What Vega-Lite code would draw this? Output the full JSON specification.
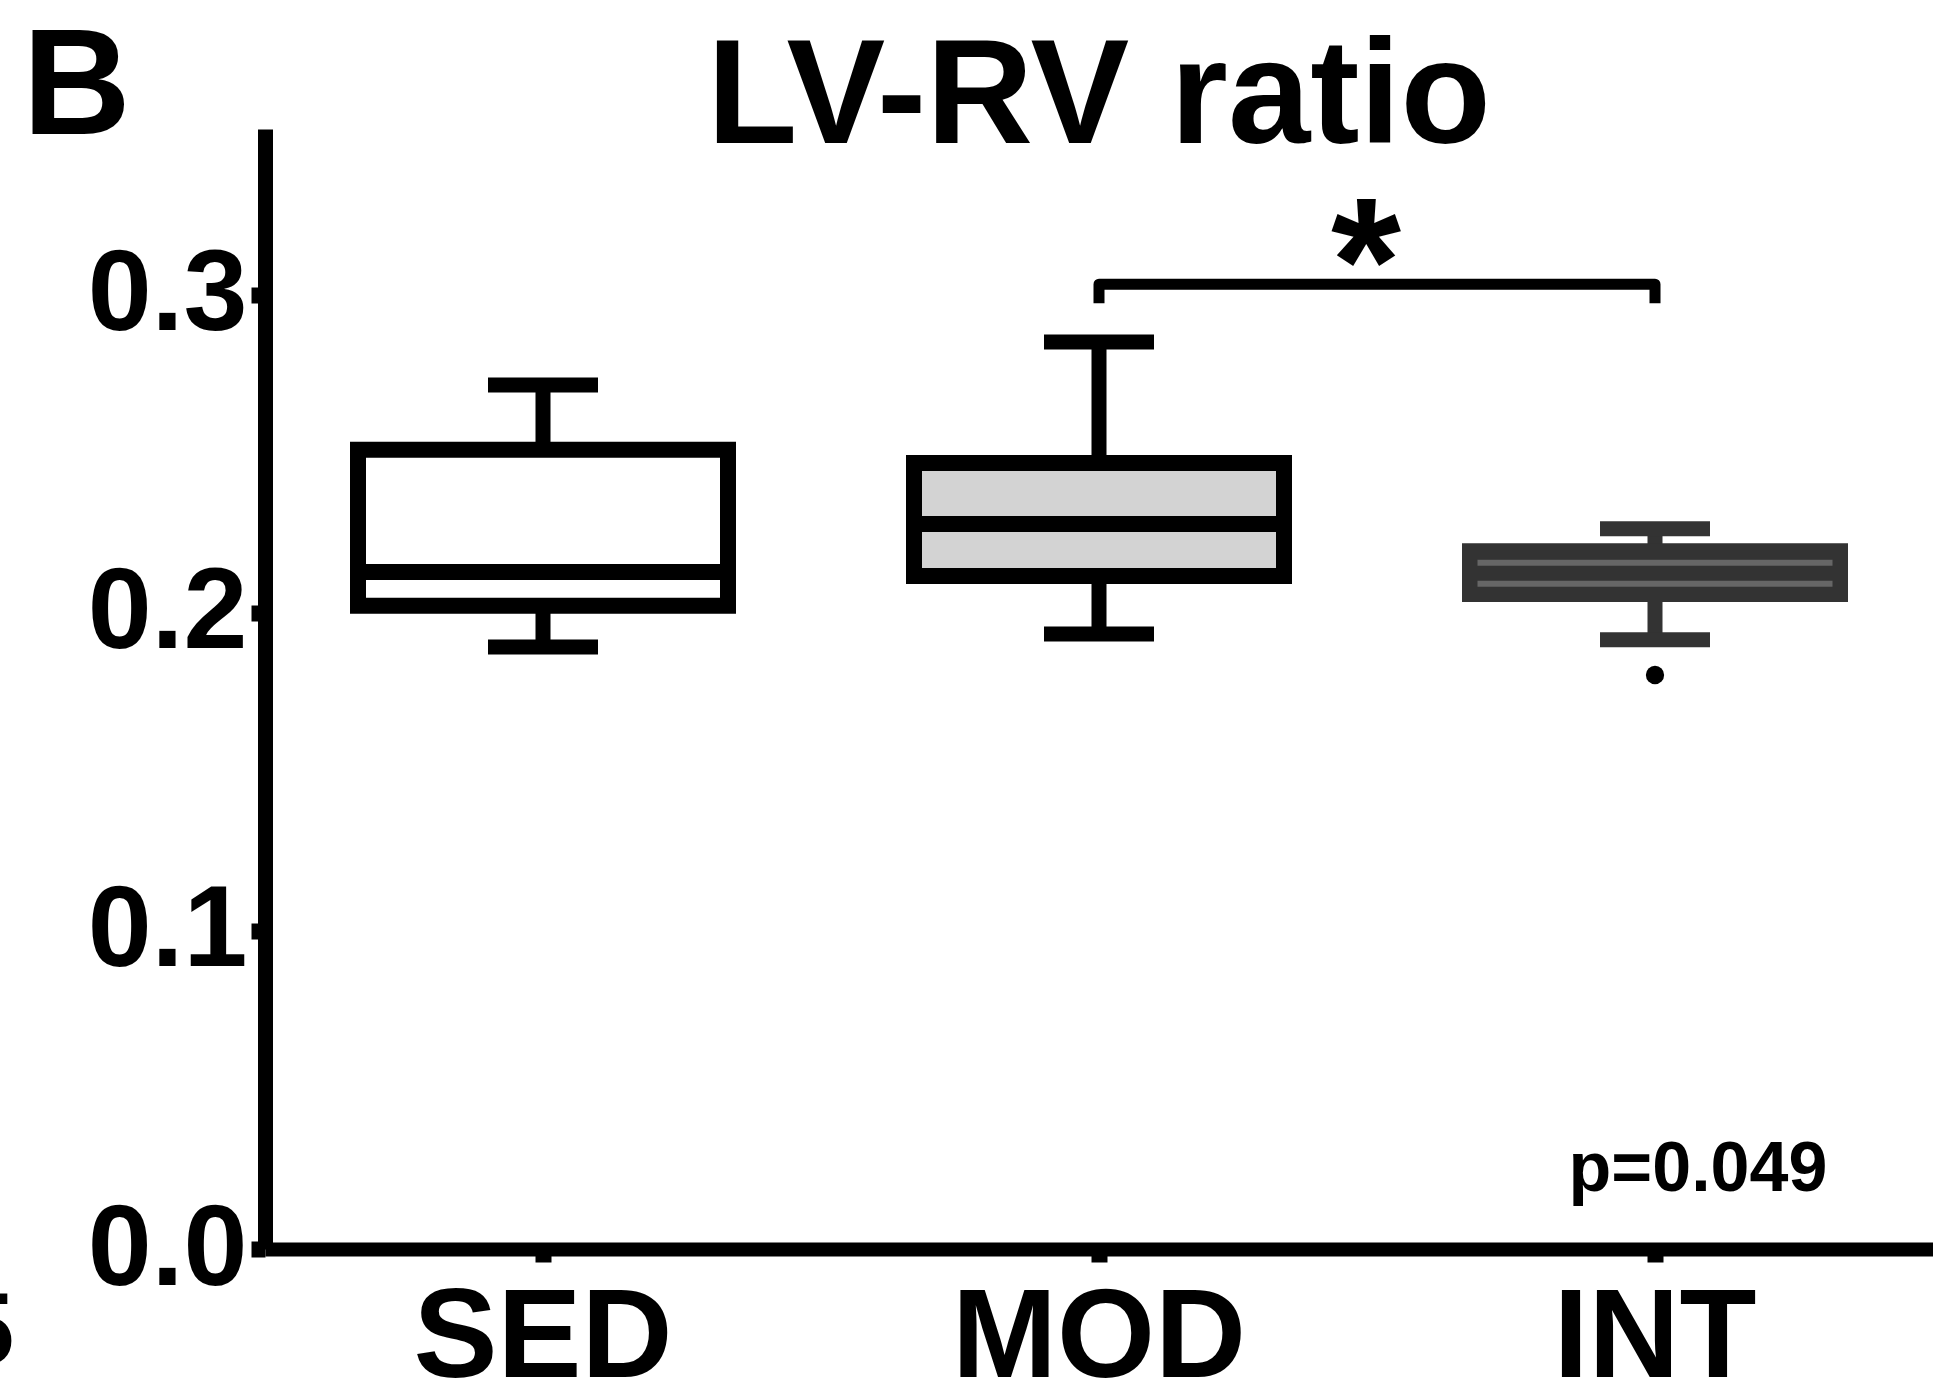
{
  "$schema": "https://vega.github.io/schema/vega-lite/v6.json",
  "autosize": "none",
  "width": 1668,
  "height": 1120,
  "padding": {"left": 265, "top": 129, "right": 0, "bottom": 132},
  "background": "white",
  "title": {"text": "LV-RV ratio", "anchor": "middle", "offset": -161, "fontSize": 148, "font": "Liberation Sans", "fontWeight": "bold", "color": "black"},
  "datasets": {
    "boxes": [
      {"group": "SED", "lower": 0.1893, "q1": 0.2023, "q3": 0.2513, "upper": 0.2717},
      {"group": "MOD", "lower": 0.1934, "q1": 0.2116, "q3": 0.2472, "upper": 0.2852},
      {"group": "INT", "lower": 0.1916, "q1": 0.2060, "q3": 0.2194, "upper": 0.2265}
    ],
    "medians": [
      {"group": "SED", "value": 0.2129},
      {"group": "MOD", "value": 0.2280}
    ],
    "intlines": [
      {"group": "INT", "value": 0.2158},
      {"group": "INT", "value": 0.2092}
    ],
    "outliers": [
      {"group": "INT", "value": 0.1805}
    ],
    "bracket": [
      {"group": "MOD", "value": 0.2974, "order": 1},
      {"group": "MOD", "value": 0.3034, "order": 2},
      {"group": "INT", "value": 0.3034, "order": 3},
      {"group": "INT", "value": 0.2974, "order": 4}
    ],
    "star": [
      {"group": "MOD", "value": 0.2913, "label": "*"}
    ],
    "pval": [
      {"group": "INT", "value": 0.0183, "label": "p=0.049"}
    ]
  },
  "encoding": {
    "x": {
      "field": "group", "type": "nominal",
      "scale": {"type": "band", "domain": ["SED", "MOD", "INT"], "paddingInner": 0, "paddingOuter": 0},
      "axis": {
        "title": "5", "titleX": -308, "titleY": 114, "titleAlign": "left", "titleBaseline": "alphabetic",
        "titleFontSize": 102, "titleFontWeight": "bold", "titleFont": "Liberation Sans", "titleColor": "black",
        "labelAngle": 0, "labelFontSize": 126, "labelFont": "Liberation Sans", "labelFontWeight": "bold", "labelColor": "black",
        "labelBaseline": "alphabetic", "labelPadding": 114, "labelLimit": 0,
        "domainColor": "black", "domainWidth": 14, "tickColor": "black", "tickWidth": 16, "tickSize": 13,
        "grid": false
      }
    }
  },
  "layer": [
    {
      "data": {"name": "boxes"},
      "mark": {"type": "rule", "strokeWidth": 15},
      "encoding": {
        "y": {
          "field": "lower", "type": "quantitative",
          "scale": {"domain": [0, 0.3522], "nice": false, "zero": false},
          "axis": {
            "values": [0, 0.1, 0.2, 0.3], "format": ".1f",
            "title": "B", "titleAngle": 0, "titleX": -243, "titleY": 4, "titleAlign": "left", "titleBaseline": "alphabetic",
            "titleFontSize": 150, "titleFontWeight": "bold", "titleFont": "Liberation Sans", "titleColor": "black",
            "labelFontSize": 115, "labelFont": "Liberation Sans", "labelFontWeight": "bold", "labelColor": "black", "labelPadding": 4, "labelLimit": 0,
            "domainColor": "black", "domainWidth": 15, "tickColor": "black", "tickWidth": 16, "tickSize": 14, "grid": false
          }
        },
        "y2": {"field": "upper"},
        "color": {"field": "group", "type": "nominal", "scale": {"domain": ["SED", "MOD", "INT"], "range": ["#000000", "#000000", "#333333"]}, "legend": null}
      }
    },
    {
      "data": {"name": "boxes"},
      "mark": {"type": "tick", "size": 110, "thickness": 15, "opacity": 1},
      "encoding": {
        "y": {"field": "lower", "type": "quantitative"},
        "color": {"field": "group", "type": "nominal", "legend": null}
      }
    },
    {
      "data": {"name": "boxes"},
      "mark": {"type": "tick", "size": 110, "thickness": 15, "opacity": 1},
      "encoding": {
        "y": {"field": "upper", "type": "quantitative"},
        "color": {"field": "group", "type": "nominal", "legend": null}
      }
    },
    {
      "data": {"name": "boxes"},
      "mark": {"type": "bar", "size": 370, "strokeWidth": 16, "opacity": 1},
      "encoding": {
        "y": {"field": "q1", "type": "quantitative"},
        "y2": {"field": "q3"},
        "fill": {"field": "group", "type": "nominal", "scale": {"domain": ["SED", "MOD", "INT"], "range": ["#ffffff", "#d3d3d3", "#333333"]}, "legend": null},
        "stroke": {"field": "group", "type": "nominal", "scale": {"domain": ["SED", "MOD", "INT"], "range": ["#000000", "#000000", "#333333"]}, "legend": null}
      }
    },
    {
      "data": {"name": "medians"},
      "mark": {"type": "tick", "size": 386, "thickness": 16, "color": "#000000", "opacity": 1},
      "encoding": {
        "y": {"field": "value", "type": "quantitative"}
      }
    },
    {
      "data": {"name": "intlines"},
      "mark": {"type": "tick", "size": 355, "thickness": 6, "color": "#666666", "opacity": 1},
      "encoding": {
        "y": {"field": "value", "type": "quantitative"}
      }
    },
    {
      "data": {"name": "outliers"},
      "mark": {"type": "point", "filled": true, "size": 335, "color": "#000000", "opacity": 1},
      "encoding": {
        "y": {"field": "value", "type": "quantitative"}
      }
    },
    {
      "data": {"name": "bracket"},
      "mark": {"type": "line", "strokeWidth": 11, "color": "#000000", "strokeJoin": "round"},
      "encoding": {
        "y": {"field": "value", "type": "quantitative"},
        "order": {"field": "order", "type": "quantitative"}
      }
    },
    {
      "data": {"name": "star"},
      "mark": {"type": "text", "fontSize": 180, "font": "Liberation Sans", "fontWeight": "bold", "color": "#000000", "align": "center", "baseline": "alphabetic", "dx": 267},
      "encoding": {
        "y": {"field": "value", "type": "quantitative"},
        "text": {"field": "label"}
      }
    },
    {
      "data": {"name": "pval"},
      "mark": {"type": "text", "fontSize": 70, "font": "Liberation Sans", "fontWeight": "bold", "color": "#000000", "align": "center", "baseline": "alphabetic", "dx": 43},
      "encoding": {
        "y": {"field": "value", "type": "quantitative"},
        "text": {"field": "label"}
      }
    }
  ],
  "config": {"view": {"stroke": null}, "font": "Liberation Sans"}
}
